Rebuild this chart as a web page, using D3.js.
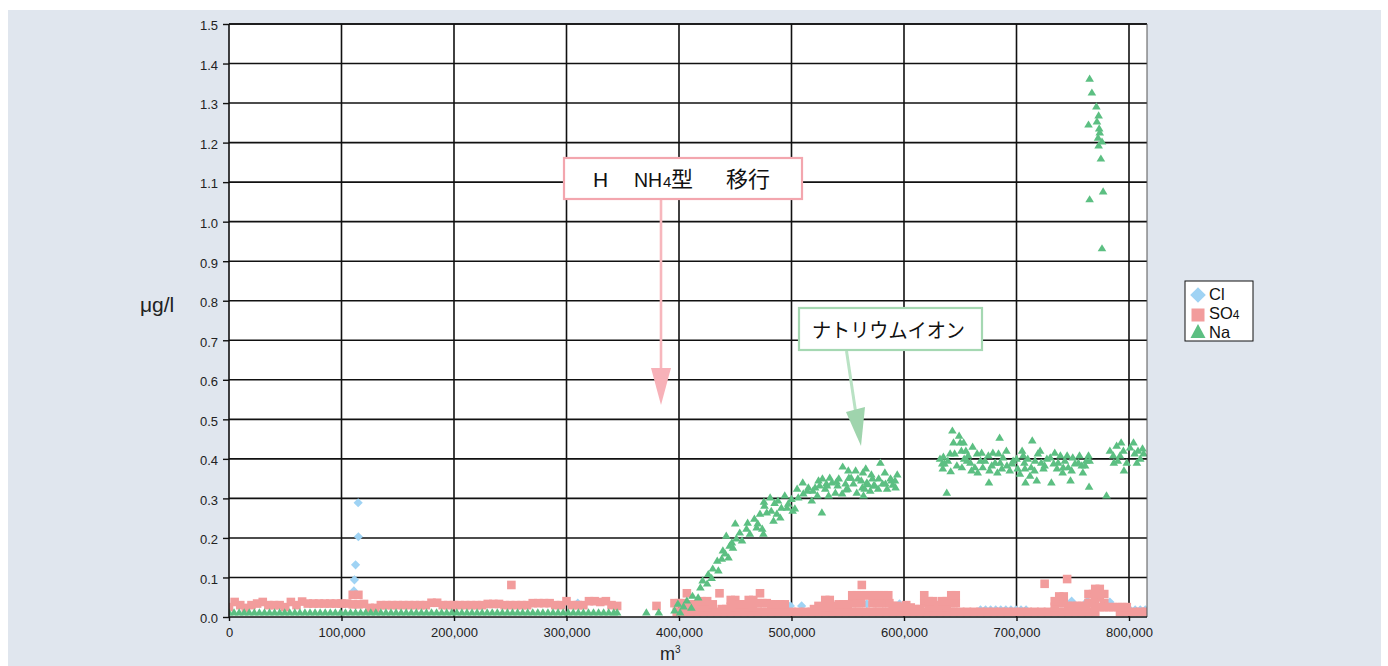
<!DOCTYPE html>
<html>
<head>
<meta charset="utf-8">
<script src="https://cdn.jsdelivr.net/npm/d3@7"></script>
<style>
  html, body { margin: 0; padding: 0; background: #ffffff; }
  svg { display: block; }
</style>
</head>
<body>
<svg id="chart" width="1388" height="666"></svg>
<script>
// ---- axis ticks ----
const yTicks = [0, 0.1, 0.2, 0.3, 0.4, 0.5, 0.6, 0.7, 0.8, 0.9, 1.0, 1.1, 1.2, 1.3, 1.4, 1.5];
const xTicks = [0, 100000, 200000, 300000, 400000, 500000, 600000, 700000, 800000];

// ---- Cl (volume m³, µg/l) ----
const clPoints = [
  [111000, 0.066], [111500, 0.094], [112500, 0.132], [115000, 0.203], [114800, 0.289],
  [310000, 0.035], [499000, 0.028], [509000, 0.028], [567000, 0.033], [596000, 0.033],
  [668000, 0.018], [672500, 0.018], [677000, 0.018], [681500, 0.018], [686000, 0.018],
  [690500, 0.018], [695000, 0.018], [699500, 0.018], [704000, 0.018], [708500, 0.018],
  [749000, 0.04], [763000, 0.04], [783000, 0.038],
  [801000, 0.018], [805500, 0.018], [810000, 0.018], [814500, 0.018]
];

// ---- SO4, first run (0 – 345,000 m³) ----
const so4Early = [
  [0, 0.025], [5000, 0.038], [10000, 0.03], [15000, 0.023], [20000, 0.03], [25000, 0.034],
  [30000, 0.038], [35000, 0.03], [40000, 0.03], [45000, 0.03], [50000, 0.025], [55000, 0.038],
  [60000, 0.03], [65000, 0.039], [70000, 0.034], [75000, 0.034], [80000, 0.034], [85000, 0.034],
  [90000, 0.034], [95000, 0.034], [100000, 0.034], [105000, 0.034], [110000, 0.056], [115000, 0.056],
  [110000, 0.032], [115000, 0.032],
  [120000, 0.033], [125000, 0.023], [130000, 0.023], [135000, 0.03], [140000, 0.03], [145000, 0.03],
  [150000, 0.03], [155000, 0.03], [160000, 0.03], [165000, 0.03], [170000, 0.03], [175000, 0.03],
  [180000, 0.036], [185000, 0.036], [190000, 0.03], [195000, 0.03], [200000, 0.03], [205000, 0.03],
  [210000, 0.03], [215000, 0.03], [220000, 0.03], [225000, 0.03], [230000, 0.033], [235000, 0.033],
  [240000, 0.033], [245000, 0.03], [250000, 0.03], [251000, 0.081], [255000, 0.03], [260000, 0.03],
  [265000, 0.03], [270000, 0.035], [275000, 0.035], [280000, 0.035], [285000, 0.035], [290000, 0.03],
  [295000, 0.03], [300000, 0.04], [305000, 0.03], [310000, 0.03], [315000, 0.03], [320000, 0.04],
  [325000, 0.04], [330000, 0.038], [335000, 0.04], [340000, 0.03], [345000, 0.028],
  [380000, 0.028]
];

// ---- SO4, second run: upper readings ----
const so4Upper = [
  [396000, 0.035], [400000, 0.035], [404000, 0.035], [407000, 0.06], [411000, 0.032], [415000, 0.032],
  [420000, 0.04], [425000, 0.04], [430000, 0.032], [436000, 0.06], [438000, 0.02], [442000, 0.02],
  [446000, 0.043], [450000, 0.043], [454000, 0.032], [458000, 0.032], [462000, 0.043], [466000, 0.043],
  [470000, 0.035], [472000, 0.06], [474000, 0.035], [478000, 0.035], [482000, 0.032], [486000, 0.032],
  [490000, 0.032], [494000, 0.032], [520000, 0.02], [524000, 0.028], [530000, 0.043], [534000, 0.043],
  [538000, 0.028], [542000, 0.032], [546000, 0.032], [550000, 0.032], [554000, 0.055], [558000, 0.055],
  [562000, 0.055], [562500, 0.081], [566000, 0.055], [570000, 0.055], [574000, 0.055], [578000, 0.055],
  [582000, 0.055], [586000, 0.055], [590000, 0.028], [594000, 0.028], [598000, 0.025], [602000, 0.03],
  [606000, 0.024], [610000, 0.02], [614000, 0.02], [618000, 0.055], [622000, 0.04], [626000, 0.04],
  [630000, 0.03], [634000, 0.04], [638000, 0.04], [642000, 0.055], [646000, 0.055], [725000, 0.084],
  [734000, 0.04], [738000, 0.052], [742000, 0.052], [745000, 0.096], [746000, 0.028], [750000, 0.028],
  [754000, 0.028], [758000, 0.028], [762000, 0.028], [764000, 0.058], [768000, 0.058], [770000, 0.071],
  [774000, 0.071], [778000, 0.058], [782000, 0.025], [786000, 0.025], [790000, 0.025], [794000, 0.025],
  [798000, 0.025]
];

// ---- SO4, second run: middle readings ----
const so4Middle = [
  [420000, 0.026], [425000, 0.026], [446000, 0.026], [450000, 0.026], [462000, 0.026], [466000, 0.026],
  [530000, 0.026], [534000, 0.026], [554000, 0.035], [558000, 0.035], [562000, 0.035], [572000, 0.035],
  [576000, 0.035], [580000, 0.035], [584000, 0.035], [587000, 0.035], [618000, 0.035], [622000, 0.026],
  [626000, 0.026], [634000, 0.026], [638000, 0.026], [642000, 0.035], [646000, 0.035], [734000, 0.026],
  [738000, 0.035], [742000, 0.035], [764000, 0.035], [768000, 0.035], [770000, 0.05], [774000, 0.05],
  [778000, 0.035], [770000, 0.03], [774000, 0.025], [778000, 0.025]
];

// ---- SO4, second run: lowest readings ----
const so4Lower = [
  [398000, 0.013], [404000, 0.013], [410000, 0.013], [416000, 0.013], [422000, 0.013], [428000, 0.013],
  [434000, 0.013], [440000, 0.013], [446000, 0.013], [452000, 0.013], [458000, 0.013], [464000, 0.013],
  [470000, 0.013], [476000, 0.013], [482000, 0.013], [488000, 0.013], [494000, 0.013], [500000, 0.013],
  [506000, 0.013], [512000, 0.013], [518000, 0.013], [524000, 0.013], [530000, 0.013], [536000, 0.013],
  [542000, 0.013], [548000, 0.013], [554000, 0.013], [560000, 0.013], [566000, 0.013], [572000, 0.013],
  [578000, 0.013], [584000, 0.013], [590000, 0.013], [596000, 0.013], [602000, 0.013], [608000, 0.013],
  [614000, 0.013], [620000, 0.013], [626000, 0.013], [632000, 0.013], [638000, 0.013], [644000, 0.013],
  [650000, 0.013], [656000, 0.013], [662000, 0.013], [668000, 0.013], [674000, 0.013], [680000, 0.013],
  [686000, 0.013], [692000, 0.013], [698000, 0.013], [704000, 0.013], [710000, 0.013], [716000, 0.013],
  [722000, 0.013], [728000, 0.013], [734000, 0.013], [740000, 0.013], [746000, 0.013], [752000, 0.013],
  [758000, 0.013], [764000, 0.013], [770000, 0.013], [792000, 0.013], [798000, 0.013], [804000, 0.013],
  [810000, 0.013], [815000, 0.013]
];

// ---- Na, first run ----
const naEarly = [
  [0, 0.013], [4500, 0.013], [9000, 0.013], [13500, 0.013], [18000, 0.013], [22500, 0.013],
  [27000, 0.013], [31500, 0.013], [36000, 0.013], [40500, 0.013], [45000, 0.013], [49500, 0.013],
  [54000, 0.013], [58500, 0.013], [63000, 0.013], [67500, 0.013], [72000, 0.013], [76500, 0.013],
  [81000, 0.013], [85500, 0.013], [90000, 0.013], [94500, 0.013], [99000, 0.013], [103500, 0.013],
  [108000, 0.013], [112500, 0.013], [117000, 0.013], [121500, 0.013], [126000, 0.013], [130500, 0.013],
  [135000, 0.013], [139500, 0.013], [144000, 0.013], [148500, 0.013], [153000, 0.013], [157500, 0.013],
  [162000, 0.013], [166500, 0.013], [171000, 0.013], [175500, 0.013], [180000, 0.013], [184500, 0.013],
  [189000, 0.013], [193500, 0.013], [198000, 0.013], [202500, 0.013], [207000, 0.013], [211500, 0.013],
  [216000, 0.013], [220500, 0.013], [225000, 0.013], [229500, 0.013], [234000, 0.013], [238500, 0.013],
  [243000, 0.013], [247500, 0.013], [252000, 0.013], [256500, 0.013], [261000, 0.013], [265500, 0.013],
  [270000, 0.013], [274500, 0.013], [279000, 0.013], [283500, 0.013], [288000, 0.013], [292500, 0.013],
  [297000, 0.013], [301500, 0.013], [306000, 0.013], [310500, 0.013], [315000, 0.013], [319500, 0.013],
  [324000, 0.013], [328500, 0.013], [333000, 0.013], [337500, 0.013], [342000, 0.013], [345000, 0.013]
];

// ---- Na, breakthrough (370,000 – 595,000 m³) ----
const naRise = [
  [371000, 0.013], [382000, 0.013],
  [396000, 0.018], [399000, 0.035], [401000, 0.013], [404000, 0.028], [407000, 0.043], [411000, 0.025],
  [412000, 0.055], [417000, 0.051], [419000, 0.076], [421000, 0.094], [425000, 0.086], [426000, 0.11],
  [429000, 0.10], [430000, 0.124], [434000, 0.144], [435000, 0.119], [438000, 0.149], [439000, 0.17],
  [441000, 0.162], [442000, 0.207], [444000, 0.152], [445000, 0.182], [447000, 0.19], [448000, 0.177],
  [450000, 0.238], [451000, 0.2], [454000, 0.215], [456000, 0.195], [460000, 0.225], [461000, 0.24],
  [463000, 0.212], [467000, 0.25], [469000, 0.228], [470000, 0.238], [472000, 0.263], [474000, 0.225],
  [475000, 0.212], [475500, 0.293], [476000, 0.283], [478000, 0.266], [481000, 0.304], [482000, 0.27],
  [484000, 0.245], [485000, 0.29], [487000, 0.263], [488000, 0.296], [490000, 0.253], [491000, 0.278],
  [494000, 0.309], [496000, 0.278], [497000, 0.288], [500000, 0.3], [501000, 0.27], [503000, 0.276],
  [505000, 0.326], [506000, 0.304], [510000, 0.342], [510500, 0.314], [514000, 0.321], [515000, 0.329],
  [518000, 0.296], [519000, 0.321], [521000, 0.329], [523000, 0.309], [524000, 0.347], [525000, 0.334],
  [527000, 0.266], [527500, 0.352], [530000, 0.326], [531000, 0.339], [531500, 0.334], [533000, 0.309],
  [534000, 0.354], [536000, 0.342], [539000, 0.316], [540000, 0.344], [541000, 0.334], [542000, 0.352],
  [545000, 0.314], [545500, 0.382], [548000, 0.339], [548500, 0.324], [550000, 0.326], [550500, 0.372],
  [551000, 0.354], [553000, 0.354], [555000, 0.339], [557000, 0.372], [558000, 0.316], [559000, 0.352],
  [562000, 0.347], [563000, 0.329], [563500, 0.367], [564000, 0.309], [565000, 0.326], [566000, 0.377],
  [567000, 0.342], [568000, 0.337], [570000, 0.321], [571000, 0.362], [572000, 0.352], [573000, 0.334],
  [574000, 0.334], [577000, 0.326], [577500, 0.352], [579000, 0.392], [581000, 0.339], [583000, 0.367],
  [583500, 0.339], [585000, 0.326], [588000, 0.352], [589000, 0.347], [590000, 0.336], [592000, 0.347],
  [592500, 0.329], [594000, 0.362]
];

// ---- Na, plateau (630,000 – 815,000 m³) ----
const naPlateau = [
  [632000, 0.402], [634000, 0.39], [634500, 0.377], [635000, 0.407], [636000, 0.39], [638000, 0.316],
  [639000, 0.397], [641000, 0.415], [641500, 0.37], [643000, 0.473], [644000, 0.443], [645000, 0.415],
  [647000, 0.385], [649000, 0.46], [650000, 0.443], [651000, 0.422], [651500, 0.38], [653000, 0.443],
  [653500, 0.402], [655000, 0.422], [656000, 0.397], [657000, 0.41], [659000, 0.392], [660000, 0.372],
  [661000, 0.432], [663000, 0.38], [665000, 0.415], [665500, 0.367], [668000, 0.397], [669000, 0.417],
  [670000, 0.38], [672000, 0.397], [675000, 0.41], [675500, 0.342], [676000, 0.372], [678000, 0.385],
  [679000, 0.417], [681000, 0.392], [683000, 0.367], [684000, 0.415], [685000, 0.455], [685500, 0.392],
  [687000, 0.377], [688000, 0.405], [691000, 0.422], [691500, 0.385], [694000, 0.372], [696000, 0.39],
  [697000, 0.397], [700000, 0.402], [701000, 0.377], [703000, 0.364], [705000, 0.422], [706000, 0.41],
  [707000, 0.392], [707500, 0.377], [708000, 0.342], [710000, 0.402], [712000, 0.359], [713000, 0.38],
  [714000, 0.448], [716000, 0.372], [716500, 0.397], [718000, 0.347], [719000, 0.415], [721000, 0.422],
  [722000, 0.392], [724000, 0.377], [725000, 0.385], [727000, 0.402], [730000, 0.405], [731000, 0.342],
  [733000, 0.39], [734000, 0.417], [736000, 0.377], [737000, 0.392], [739000, 0.41], [741000, 0.367],
  [741500, 0.38], [743000, 0.397], [745000, 0.41], [746000, 0.38], [748000, 0.347], [749000, 0.372],
  [750000, 0.405], [752000, 0.39], [755000, 0.392], [756000, 0.41], [758000, 0.385], [759000, 0.367],
  [761000, 0.385], [762000, 0.397], [764000, 0.41], [764500, 0.331], [765000, 0.397],
  [780000, 0.309], [783000, 0.422], [786000, 0.41], [786500, 0.392], [789000, 0.435], [790000, 0.397],
  [792000, 0.41], [793000, 0.443], [795000, 0.422], [795500, 0.372], [798000, 0.392], [801000, 0.43],
  [804000, 0.443], [805000, 0.415], [807000, 0.392], [808000, 0.422], [810000, 0.402], [812000, 0.428],
  [813000, 0.415]
];

// ---- Na, excursion near 770,000 m³ ----
const naSpike = [
  [765000, 1.363], [767000, 1.328], [771000, 1.293], [773000, 1.27], [771500, 1.255], [764000, 1.247],
  [773500, 1.237], [774000, 1.227], [772500, 1.214], [776000, 1.204], [773000, 1.194], [775000, 1.161],
  [777000, 1.078], [765000, 1.058], [776000, 0.934]
];

// ---- layout ----
const svg = d3.select("#chart");
const W = 1388, H = 666;
const plot = { left: 229, right: 1147, top: 24, bottom: 617 };
const latin = "'Liberation Sans', Arial, Helvetica, sans-serif";
const cjk = "'Noto Sans CJK JP', 'Noto Sans CJK SC', sans-serif";

const colors = { cl: "#9fd3f4", so4: "#f29c9c", na: "#5cbf82" };

const x = d3.scaleLinear().domain([0, 816000]).range([plot.left, plot.right]);
const y = d3.scaleLinear().domain([0, 1.5]).range([plot.bottom, plot.top]);

// panel background
svg.append("rect").attr("x", 0).attr("y", 0).attr("width", W).attr("height", H).attr("fill", "#ffffff");
svg.append("rect").attr("x", 8).attr("y", 10).attr("width", 1373).attr("height", H - 10).attr("fill", "#e0e6ee");

// plot area
svg.append("rect")
  .attr("x", plot.left).attr("y", plot.top)
  .attr("width", plot.right - plot.left).attr("height", plot.bottom - plot.top)
  .attr("fill", "#ffffff");

svg.append("defs").append("clipPath").attr("id", "plotClip")
  .append("rect")
  .attr("x", plot.left).attr("y", plot.top)
  .attr("width", plot.right - plot.left).attr("height", plot.bottom - plot.top);

// grid
const grid = svg.append("g");
grid.selectAll("line.h").data(yTicks.filter(d => d > 0)).join("line")
  .attr("x1", plot.left).attr("x2", plot.right)
  .attr("y1", d => y(d)).attr("y2", d => y(d))
  .attr("stroke", "#111").attr("stroke-width", 1.6);
grid.selectAll("line.v").data(xTicks.filter(d => d > 0)).join("line")
  .attr("x1", d => x(d)).attr("x2", d => x(d))
  .attr("y1", plot.top).attr("y2", plot.bottom)
  .attr("stroke", "#111").attr("stroke-width", 1.6);

// marker shapes
const diamond = r => `M0,${-r}L${r},0L0,${r}L${-r},0Z`;
const triangle = (w, h) => `M0,${-h / 2}L${w / 2},${h / 2}L${-w / 2},${h / 2}Z`;

const marks = svg.append("g").attr("clip-path", "url(#plotClip)");

// Cl diamonds
marks.append("g").selectAll("path").data(clPoints).join("path")
  .attr("d", diamond(4.6))
  .attr("transform", d => `translate(${x(d[0])},${y(d[1])})`)
  .attr("fill", colors.cl);

// SO4 squares
const so4All = so4Early.concat(so4Lower, so4Middle, so4Upper);
const sq = 8.6;
marks.append("g").selectAll("rect").data(so4All).join("rect")
  .attr("x", d => x(d[0]) - sq / 2).attr("y", d => y(d[1]) - sq / 2)
  .attr("width", sq).attr("height", sq)
  .attr("fill", colors.so4);

// Na triangles
const naAll = naEarly.concat(naRise, naPlateau, naSpike);
marks.append("g").selectAll("path").data(naAll).join("path")
  .attr("d", triangle(8.6, 7.2))
  .attr("transform", d => `translate(${x(d[0])},${y(d[1])})`)
  .attr("fill", colors.na);

// frame
svg.append("line").attr("x1", plot.left).attr("x2", plot.right).attr("y1", plot.top).attr("y2", plot.top)
  .attr("stroke", "#111").attr("stroke-width", 1.6);
svg.append("line").attr("x1", plot.right).attr("x2", plot.right).attr("y1", plot.top).attr("y2", plot.bottom)
  .attr("stroke", "#555").attr("stroke-width", 1);

// axes
const yAxis = d3.axisLeft(y).tickValues(yTicks).tickFormat(d3.format(".1f")).tickSize(6).tickPadding(5);
const gy = svg.append("g").attr("transform", `translate(${plot.left},0)`).call(yAxis);
const xAxis = d3.axisBottom(x).tickValues(xTicks).tickFormat(d3.format(",")).tickSize(4).tickPadding(7);
const gx = svg.append("g").attr("transform", `translate(0,${plot.bottom})`).call(xAxis);

[gy, gx].forEach(g => {
  g.select(".domain").attr("stroke", "#111").attr("stroke-width", 1.6);
  g.selectAll(".tick line").attr("stroke", "#111").attr("stroke-width", 1.4);
  g.selectAll(".tick text").attr("fill", "#222").style("font-family", latin).style("font-size", "13px");
});
gx.select(".domain").attr("d", `M${plot.left},0H${plot.right}`);
gy.select(".domain").attr("d", `M0,${plot.bottom}V${plot.top}`);
gy.selectAll(".tick text").attr("dy", "0.45em");

// axis titles
svg.append("text").attr("x", 140).attr("y", 312)
  .style("font-family", latin).style("font-size", "21px").attr("fill", "#222")
  .text("μg/l");
const xt = svg.append("text").attr("x", 660).attr("y", 660)
  .style("font-family", latin).style("font-size", "18px").attr("fill", "#222");
xt.append("tspan").text("m");
xt.append("tspan").attr("dy", -7).style("font-size", "10px").text("3");

// legend
const lg = svg.append("g");
lg.append("rect").attr("x", 1185).attr("y", 281).attr("width", 68).attr("height", 60)
  .attr("fill", "#fff").attr("stroke", "#111").attr("stroke-width", 1);
lg.append("path").attr("d", diamond(7.8)).attr("transform", "translate(1198,295)").attr("fill", colors.cl);
lg.append("rect").attr("x", 1191.5).attr("y", 308.5).attr("width", 13).attr("height", 13).attr("fill", colors.so4);
lg.append("path").attr("d", triangle(15, 14)).attr("transform", "translate(1198,331)").attr("fill", colors.na);
const legendText = (yy) => lg.append("text").attr("x", 1209).attr("y", yy)
  .style("font-family", latin).style("font-size", "16.5px").attr("fill", "#111");
legendText(300).text("Cl");
const so4Label = legendText(319);
so4Label.append("tspan").text("SO");
so4Label.append("tspan").style("font-size", "12px").text("4");
legendText(338).text("Na");

// annotation: ion-form transition
const ann = svg.append("g");
ann.append("line").attr("x1", 661).attr("x2", 661).attr("y1", 200).attr("y2", 370)
  .attr("stroke", "#f7b7bd").attr("stroke-width", 2.6);
ann.append("path").attr("d", "M651,368L671,368L661,405Z").attr("fill", "#f7b1b8");
ann.append("rect").attr("x", 564).attr("y", 158).attr("width", 238).attr("height", 41)
  .attr("fill", "#fff").attr("stroke", "#f3a6ae").attr("stroke-width", 2.2);
const t1 = (xx, s, fam, txt) => ann.append("text").attr("x", xx).attr("y", 187)
  .style("font-family", fam).style("font-size", s + "px").attr("fill", "#111").text(txt);
t1(593, 21, latin, "H");
t1(634, 19.5, latin, "NH");
t1(663, 15, latin, "4");
t1(671, 22, cjk, "型");
t1(726, 22, cjk, "移行");

// annotation: sodium
ann.append("line").attr("x1", 846.5).attr("y1", 351).attr("x2", 855.5).attr("y2", 411)
  .attr("stroke", "#b9e2c4").attr("stroke-width", 3);
ann.append("path").attr("d", "M846,412L865,407L861,446Z").attr("fill", "#9fd4ad");
ann.append("rect").attr("x", 799).attr("y", 308).attr("width", 183).attr("height", 42)
  .attr("fill", "#fff").attr("stroke", "#a5d8b2").attr("stroke-width", 2.2);
ann.append("text").attr("x", 812).attr("y", 338)
  .attr("textLength", 153).attr("lengthAdjust", "spacingAndGlyphs")
  .style("font-family", cjk).style("font-size", "20px").attr("fill", "#111")
  .text("ナトリウムイオン");
</script>
</body>
</html>
